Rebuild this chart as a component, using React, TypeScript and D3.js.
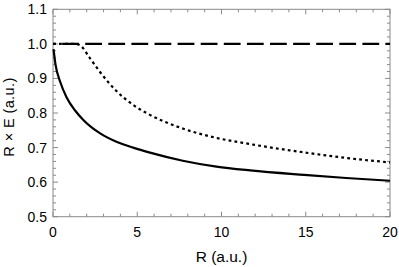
import React from "react";
import * as d3 from "d3";

const solidR = [0.03, 0.15, 0.42, 0.81, 1.3, 1.8, 2.8, 3.8, 4.8, 5.7, 7.7, 9.7, 11.7, 14.9, 17.4, 20];
const solidV = [0.985, 0.94, 0.891, 0.845, 0.808, 0.78, 0.741, 0.716, 0.699, 0.686, 0.662, 0.645, 0.634, 0.621, 0.612, 0.604];
const dottedR = [0, 1.3, 1.6, 2.2, 2.8, 3.8, 4.8, 5.7, 7.7, 9.7, 11.7, 14.9, 17.4, 20];
const dottedV = [1.0, 1.0, 0.996, 0.958, 0.918, 0.862, 0.822, 0.796, 0.755, 0.728, 0.71, 0.686, 0.67, 0.657];
const dashedR = [0, 20];
const dashedV = [1.0, 1.0];
const xTicks = [0, 5, 10, 15, 20];
const yTicks = [0.5, 0.6, 0.7, 0.8, 0.9, 1.0, 1.1];

export default function App() {
  const W = 399, H = 267;
  const left = 53, right = 390, top = 9.3, bottom = 216.7;
  const x = d3.scaleLinear().domain([0, 20]).range([left, right]);
  const y = d3.scaleLinear().domain([0.5, 1.1]).range([bottom, top]);
  const line = d3.line<[number, number]>().x(d => x(d[0])).y(d => y(d[1])).curve(d3.curveMonotoneX);
  const solid = line(solidR.map((r, i) => [r, solidV[i]]))!;
  const dotted = line(dottedR.map((r, i) => [r, dottedV[i]]))!;
  const dashed = line(dashedR.map((r, i) => [r, dashedV[i]]))!;
  const xMinor = d3.range(0, 21, 1);
  const yMinor = d3.range(0, 31).map(i => 0.5 + i * 0.02);
  const axisColor = "#8a8a8a";
  const font = "'Liberation Sans', Arial, Helvetica, sans-serif";
  return (
    <svg width={W} height={H} style={{ position: "absolute", left: 0, top: 0, background: "#fff" }}>
      <g stroke={axisColor} strokeWidth={1}>
        {xMinor.map(v => {
          const len = v % 5 === 0 ? 5 : 3;
          return (
            <g key={"x" + v}>
              <line x1={x(v)} x2={x(v)} y1={bottom} y2={bottom - len} />
              <line x1={x(v)} x2={x(v)} y1={top} y2={top + len} />
            </g>
          );
        })}
        {yMinor.map((v, i) => {
          const len = i % 5 === 0 ? 5 : 3;
          return (
            <g key={"y" + i}>
              <line x1={left} x2={left + len} y1={y(v)} y2={y(v)} />
              <line x1={right} x2={right - len} y1={y(v)} y2={y(v)} />
            </g>
          );
        })}
        <rect x={left} y={top} width={right - left} height={bottom - top} fill="none" />
      </g>
      <path d={dashed} fill="none" stroke="#000" strokeWidth={2.2} strokeDasharray="16.8 6.3" strokeDashoffset={14} />
      <path d={dotted} fill="none" stroke="#000" strokeWidth={2.2} strokeDasharray="2.8 3.2" />
      <path d={solid} fill="none" stroke="#000" strokeWidth={2.2} />
      <g fontFamily={font} fontSize={14} fill="#000">
        {xTicks.map(v => (
          <text key={v} x={x(v)} y={236.7} textAnchor="middle">{v}</text>
        ))}
        {yTicks.map(v => (
          <text key={v} x={47} y={y(v) + 5} textAnchor="end">{v.toFixed(1)}</text>
        ))}
      </g>
      <text x={(left + right) / 2} y={262} textAnchor="middle" fontFamily={font} fontSize={15.5}>R (a.u.)</text>
      <text transform={`translate(14,117) rotate(-90)`} textAnchor="middle" fontFamily={font} fontSize={14.5} letterSpacing={0.4}>R × E (a.u.)</text>
    </svg>
  );
}
